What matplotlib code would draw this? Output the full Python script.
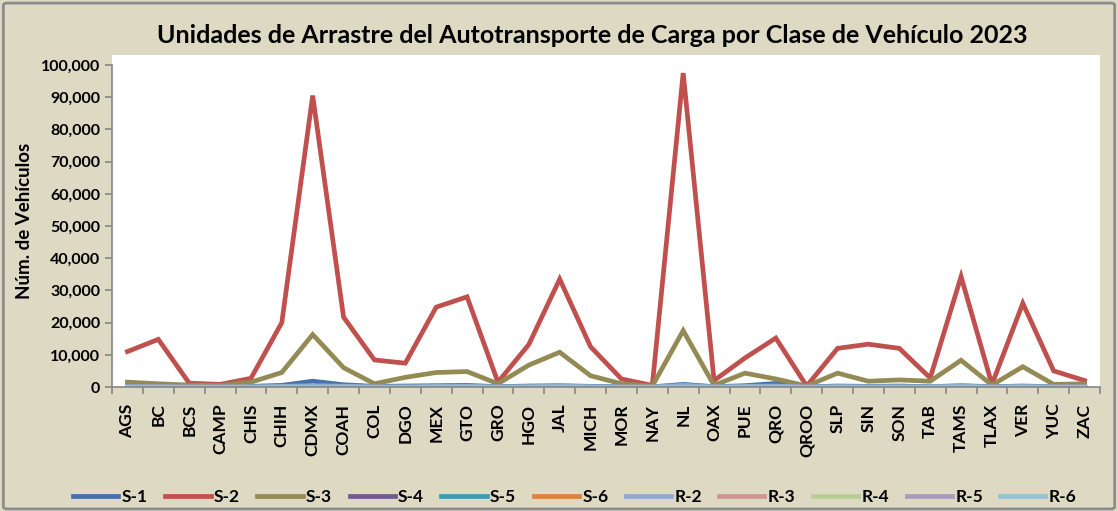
import matplotlib.pyplot as plt
from matplotlib.patches import FancyBboxPatch
from matplotlib.ticker import FuncFormatter

# Entidades
estados = ['AGS', 'BC', 'BCS', 'CAMP', 'CHIS', 'CHIH', 'CDMX', 'COAH', 'COL', 'DGO',
           'MEX', 'GTO', 'GRO', 'HGO', 'JAL', 'MICH', 'MOR', 'NAY', 'NL', 'OAX',
           'PUE', 'QRO', 'QROO', 'SLP', 'SIN', 'SON', 'TAB', 'TAMS', 'TLAX', 'VER',
           'YUC', 'ZAC']

# Valores por clase de vehiculo
s1 = [300, 250, 100, 100, 200, 500, 1800, 700, 200, 300, 400, 500, 100, 300, 400, 200,
      100, 50, 800, 100, 400, 1100, 50, 300, 200, 300, 100, 400, 100, 300, 100, 100]
s2 = [11000, 14800, 1200, 800, 2700, 20000, 90500, 21700, 8400, 7400, 24800, 28000,
      1500, 13200, 33500, 12500, 2500, 500, 97500, 2000, 9000, 15200, 300, 12000,
      13300, 12000, 2800, 34300, 800, 26000, 5000, 2000]
s3 = [1500, 1000, 600, 500, 1500, 4500, 16300, 6000, 1000, 3000, 4500, 4800, 1000,
      6800, 10800, 3500, 1000, 300, 17500, 500, 4300, 2500, 300, 4300, 1800, 2200,
      1800, 8300, 600, 6300, 800, 1000]
s4 = [20] * 32
s5 = [30] * 32
s6 = [10] * 32
r2 = [150, 100, 50, 50, 80, 200, 400, 250, 60, 80, 200, 250, 50, 150, 300, 120,
      50, 30, 500, 60, 200, 300, 30, 150, 100, 120, 60, 300, 40, 200, 60, 60]
r3 = [40] * 32
r4 = [60] * 32
r5 = [20] * 32
r6 = [100] * 32

series = [('S-1', s1, '#4572A7'), ('S-2', s2, '#C0504D'), ('S-3', s3, '#948A54'),
          ('S-4', s4, '#71588F'), ('S-5', s5, '#4198AF'), ('S-6', s6, '#DB843D'),
          ('R-2', r2, '#93A9CF'), ('R-3', r3, '#D19392'), ('R-4', r4, '#B9CD96'),
          ('R-5', r5, '#A99BBD'), ('R-6', r6, '#91C3D5')]

fondo = '#DDD9C3'
fig = plt.figure(figsize=(11.18, 5.11), dpi=100, facecolor=fondo)
plt.rcParams['font.family'] = ['Lato', 'DejaVu Sans']

W, H = 1118, 511
x0, x1, y0, y1 = 112, 1100, 387, 55
ax = fig.add_axes([x0 / W, 1 - y0 / H, (x1 - x0) / W, (y0 - y1) / H])
ax.set_facecolor('white')

for nombre, vals, color in series:
    ax.plot(range(len(estados)), vals, color=color, linewidth=3.4, label=nombre,
            solid_joinstyle='miter')

ax.set_xlim(-0.5, len(estados) - 0.5)
ymax = 100000 * (y0 - y1) / (y0 - 65)
ax.set_ylim(0, ymax)
ax.set_yticks(range(0, 100001, 10000))
ax.yaxis.set_major_formatter(FuncFormatter(lambda v, p: f'{int(v):,}'))
ax.set_xticks(range(len(estados)))
ax.set_xticklabels(estados, rotation=90, fontsize=12.5, fontweight='bold')
ax.set_xticks([i - 0.5 for i in range(len(estados) + 1)], minor=True)
ax.tick_params(axis='x', which='major', length=0, pad=12)
ax.tick_params(axis='x', which='minor', length=5, color='#868686', width=1.2)
ax.tick_params(axis='y', length=5, color='#868686', width=1.2, labelsize=11.5)
for lab in ax.get_yticklabels():
    lab.set_fontweight('bold')

for s in ['top', 'right']:
    ax.spines[s].set_visible(False)
ax.spines['left'].set_color('#868686')
ax.spines['bottom'].set_color('#868686')
ax.spines['left'].set_linewidth(1.2)
ax.spines['bottom'].set_linewidth(1.2)
ax.spines['left'].set_bounds(0, 100000)

ax.set_ylabel('Núm. de Vehículos', fontsize=13.5, fontweight='bold', labelpad=6)

fig.text(592 / W, 1 - 35 / H,
         'Unidades de Arrastre del Autotransporte de Carga por Clase de Vehículo 2023',
         ha='center', va='center', fontsize=18, fontweight='bold')

leg = fig.legend(loc='center', bbox_to_anchor=(575 / W, 1 - 497 / H), ncol=11,
                 frameon=False, handlelength=2.6, columnspacing=1.0, handletextpad=0.2,
                 prop={'size': 12.5, 'weight': 'bold'})

# Borde del grafico
borde = FancyBboxPatch((0.003, 0.004), 0.994, 0.99, boxstyle='round,pad=0,rounding_size=0.004',
                       transform=fig.transFigure, fill=False, edgecolor='#8c8c8c',
                       linewidth=2)
fig.patches.append(borde)

fig.savefig('out.png', dpi=100, facecolor=fondo)
